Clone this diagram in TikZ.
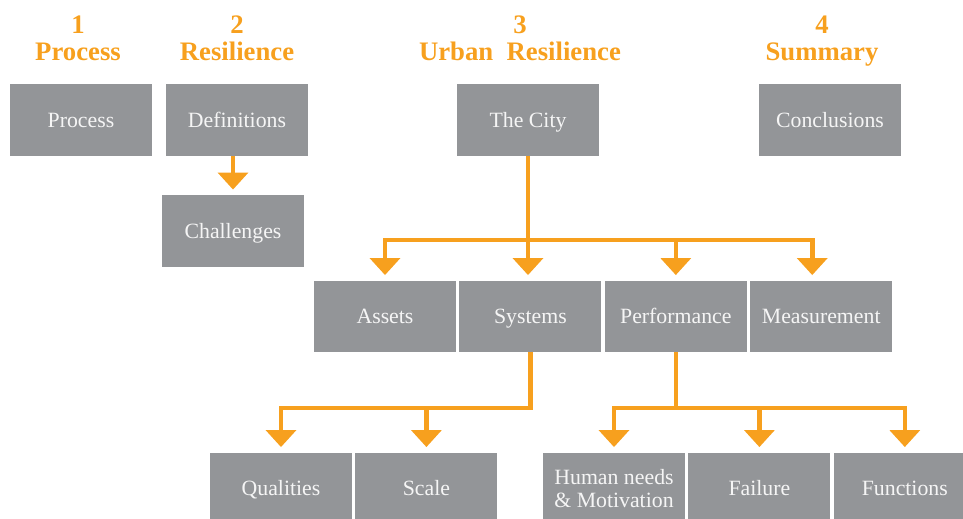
\documentclass[tikz,border=0pt]{standalone}
\usepackage{fontspec}
\setmainfont{Liberation Serif}
\usetikzlibrary{arrows.meta,positioning}
\definecolor{boxgray}{RGB}{147,149,152}
\definecolor{accent}{RGB}{247,160,30}
\tikzstyle{cell}=[rectangle,fill=boxgray,text=white!96!black,
minimum width=3.55cm,minimum height=1.775cm,inner sep=0pt,
font=\fontsize{15.5}{16}\selectfont,align=center]
\tikzstyle{box}=[cell,text height=12pt,text depth=1.4pt]
\tikzstyle{head}=[text=accent,font=\bfseries\fontsize{19}{19.5}\selectfont,
align=center,execute at end node=\strut]
\tikzstyle{flow}=[draw=accent,line width=3.3pt,line join=miter,
-{Triangle[width=21pt,length=12pt]},shorten >=4pt]

\begin{document}
\begin{tikzpicture}[x=0.025cm,y=-0.025cm,node distance=2pt]
            \clip (0,0) rectangle (963,519);

            % HEADINGS

            \node[head] (h1) at (78,42.5) {1\\Process};
            \node[head] (h2) at (237,42.5) {2\\Resilience};
            \node[head] (h3) at (520,42.5) {3\\Urban~~Resilience};
            \node[head] (h4) at (822,42.5) {4\\Summary};

            % TOP ROW

            \node[box] (process) at (81,120) {Process};
            \node[box] (definitions) at (237,120) {Definitions};
            \node[box] (challenges) at (233,231) {Challenges};
            \node[box] (city) at (528,120) {The City};
            \node[box] (conclusions) at (830,120) {Conclusions};

            \draw[flow] (definitions.south -| challenges.north) -- (challenges.north);

            % CITY PART

            \node[box] (assets) at (385,316.5) {Assets};
            \node[box,right=of assets] (systems) {Systems};
            \node[box,right=of systems] (performance) {Performance};
            \node[box,right=of performance] (measurement) {Measurement};

            \coordinate (citybar) at (city.south |- 0,240);
            \draw[flow] (city.south) -- (citybar) -| (assets.north);
            \draw[flow] (citybar) -- (systems.north -| citybar);
            \draw[flow] (citybar) -| (performance.north);
            \draw[flow] (citybar) -| ([xshift=-6.4pt]measurement.north);

            % SYSTEMS PART

            \node[box] (qualities) at (281,488.5) {Qualities};
            \node[box,right=of qualities] (scale) {Scale};

            \coordinate (sysbar) at (systems.south |- 0,408);
            \draw[flow] (systems.south) -- (sysbar) -| (qualities.north);
            \draw[flow] (sysbar) -| (scale.north);

            % PERFORMANCE PART

            \node[cell] (needs) at (614,488.5) {Human needs\\\& Motivation};
            \node[box,right=of needs] (failure) {Failure};
            \node[box,right=of failure] (functions) {Functions};

            \coordinate (perfbar) at (performance.south |- 0,408);
            \draw[flow] (performance.south) -- (perfbar) -| (needs.north);
            \draw[flow] (perfbar) -| (failure.north);
            \draw[flow] (perfbar) -| (functions.north);

\end{tikzpicture}
\end{document}
